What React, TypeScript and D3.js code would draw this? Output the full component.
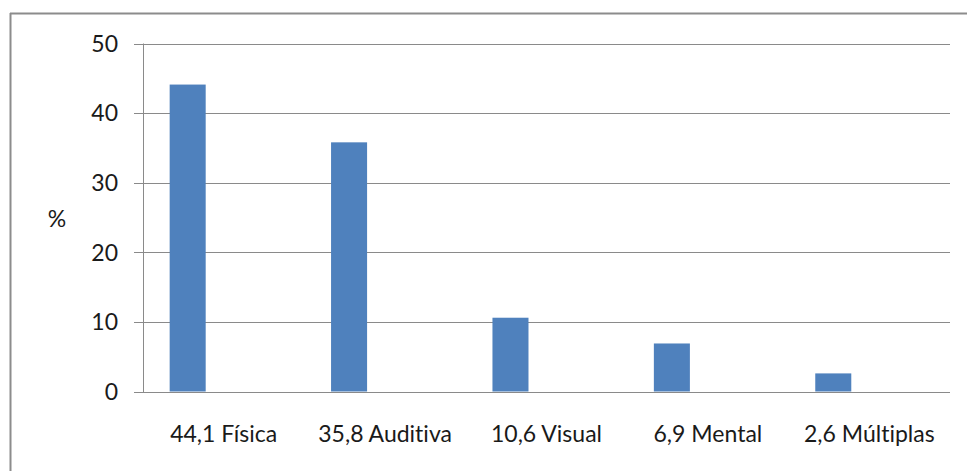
import React from 'react';
import * as d3 from 'd3';

// categories and values
const categories = ['44,1 Física', '35,8 Auditiva', '10,6 Visual', '6,9 Mental', '2,6 Múltiplas'];
const values = [44.1, 35.8, 10.6, 6.9, 2.6];
// the original chart is clustered with three series slots, only the first is filled
const seriesSlots = ['s1', 's2', 's3'];
const yTicks = [0, 10, 20, 30, 40, 50];

const W = 967;
const H = 471;
const plot = { left: 143, right: 950, top: 43.5, bottom: 391.5 };
const FONT = 'Lato, "Open Sans", sans-serif';
const FS = 23;
const textStyle = { fontVariantLigatures: 'none', fontFeatureSettings: '"liga" 0, "clig" 0' } as React.CSSProperties;

const App: React.FC = () => {
  const x = d3.scaleBand<string>().domain(categories).range([plot.left, plot.right]).padding(0);
  const inner = d3
    .scaleBand<string>()
    .domain(seriesSlots)
    .range([0, x.bandwidth()])
    .paddingInner(0)
    .paddingOuter(0.74);
  const y = d3.scaleLinear().domain([0, 50]).range([plot.bottom, plot.top]);

  return (
    <div style={{ position: 'absolute', left: 0, top: 0 }}>
      <svg width={W} height={H} style={{ display: 'block', background: '#fff' }}>
        {/* outer frame, only left and top visible */}
        <line x1={10.5} y1={13} x2={10.5} y2={H} stroke="#8c8c8c" strokeWidth={2} />
        <line x1={10} y1={13.5} x2={W} y2={13.5} stroke="#8c8c8c" strokeWidth={2} />

        {/* gridlines + tick marks */}
        {yTicks.map((t) => (
          <g key={t}>
            <line
              x1={134}
              x2={plot.right}
              y1={Math.round(y(t)) + 0.5}
              y2={Math.round(y(t)) + 0.5}
              stroke="#8a8a8a"
              strokeWidth={1}
            />
            <text
              x={118}
              y={y(t)}
              dy="0.36em"
              textAnchor="end"
              fontFamily={FONT}
              fontSize={FS}
              fill="#1a1a1a"
              style={textStyle}
            >
              {t}
            </text>
          </g>
        ))}
        {/* y axis line */}
        <line x1={plot.left + 0.5} x2={plot.left + 0.5} y1={plot.top} y2={plot.bottom + 1} stroke="#8a8a8a" />

        {/* bars */}
        {categories.map((c, i) => (
          <rect
            key={c}
            x={(x(c) ?? 0) + (inner('s1') ?? 0)}
            y={y(values[i])}
            width={inner.bandwidth()}
            height={y(0) - y(values[i])}
            fill="#4f81bd"
          />
        ))}

        {/* category labels */}
        {categories.map((c) => (
          <text
            key={c}
            x={(x(c) ?? 0) + x.bandwidth() / 2}
            y={442}
            textAnchor="middle"
            fontFamily={FONT}
            fontSize={FS}
            fill="#1a1a1a"
            style={textStyle}
          >
            {c}
          </text>
        ))}

        <text x={57} y={227} textAnchor="middle" fontFamily={FONT} fontSize={FS} fill="#1a1a1a" style={textStyle}>
          %
        </text>
      </svg>
    </div>
  );
};

export default App;
